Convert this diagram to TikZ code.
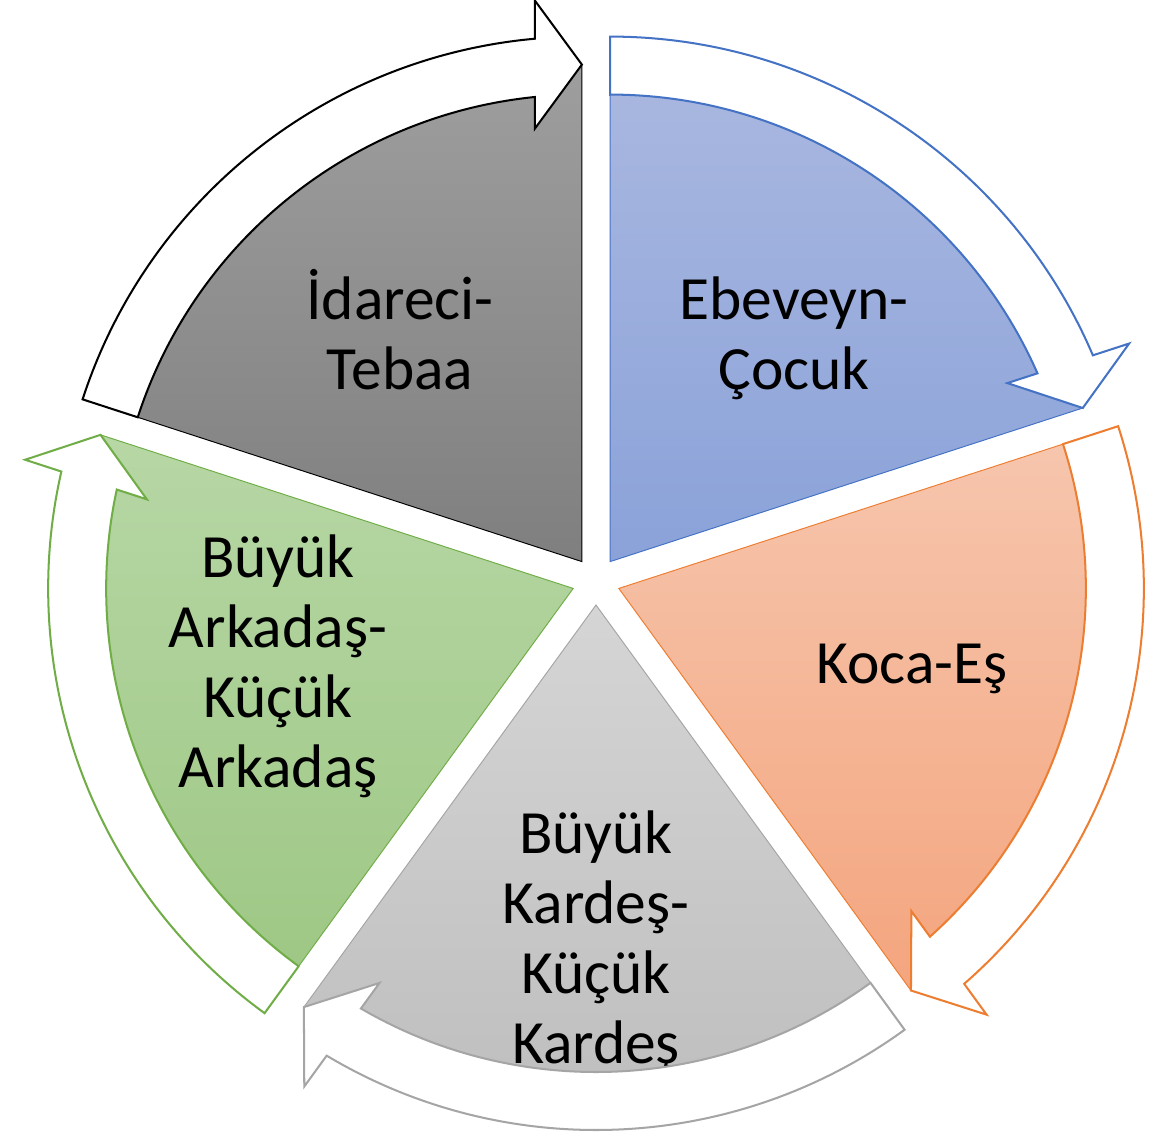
\documentclass[tikz,border=0pt]{standalone}
\usepackage{fontspec}
\setmainfont{Carlito}
\definecolor{grayT}{HTML}{9E9E9E}
\definecolor{grayB}{HTML}{7F7F7F}
\definecolor{grayL}{HTML}{000000}
\definecolor{blueT}{HTML}{AAB8E0}
\definecolor{blueB}{HTML}{8AA2D9}
\definecolor{blueL}{HTML}{4472C4}
\definecolor{orT}{HTML}{F6C6AE}
\definecolor{orB}{HTML}{F4A57E}
\definecolor{orL}{HTML}{ED7D31}
\definecolor{lgT}{HTML}{D5D5D5}
\definecolor{lgB}{HTML}{BDBDBD}
\definecolor{lgL}{HTML}{A5A5A5}
\definecolor{grT}{HTML}{B7D7A5}
\definecolor{grB}{HTML}{9DC784}
\definecolor{grL}{HTML}{70AD47}
\begin{document}
\begin{tikzpicture}[x=0.02cm,y=0.02cm,
  pieedge/.style={line width=0.55pt},
  cyclearrow/.style={line width=1.15pt, fill=white, line join=miter},
  lbl/.style={font=\fontsize{35pt}{39.8pt}\selectfont, align=center, inner sep=0pt, anchor=base, text=black}]
\useasboundingbox (0,0) rectangle (1169,-1133);
\coordinate (C) at (596,-581);
% pie segments
\foreach \b/\fa/\fb/\ln in {126/grayT/grayB/grayL, 54/blueT/blueB/blueL, -18/orT/orB/orL, -90/lgT/lgB/lgL, 198/grT/grB/grL}{
  \pgfmathsetmacro\sa{\b-36}
  \pgfmathsetmacro\ea{\b+36}
  \begin{scope}[shift={(C)}, shift={(\b:24)}]
    \shadedraw[top color=\fa, bottom color=\fb, draw=\ln, pieedge]
      (0,0) -- (\sa:497) arc[start angle=\sa, end angle=\ea, radius=497] -- cycle;
  \end{scope}
}
% labels (anchor = baseline of the last line)
\node[lbl] (idareci) at (400,-389) {İdareci-\\Tebaa};
\node[lbl] (ebeveyn) at (794,-389) {Ebeveyn-\\Çocuk};
\node[lbl] (koca) at (912,-683) {Koca-Eş};
\node[lbl] (kardes) at (596,-1063) {Büyük\\Kardeş-\\Küçük\\Kardeş};
\node[lbl] (arkadas) at (278,-787) {Büyük\\Arkadaş-\\Küçük\\Arkadaş};
% circular arrows
\foreach \b/\r/\ln in {126/0/grayL, 54/-72/blueL, -18/-144/orL, -90/-216/lgL, 198/72/grL}{
  \begin{scope}[shift={(C)}, shift={(\b:24)}, rotate=\r]
    \draw[cyclearrow, draw=\ln]
      (162:467) -- (162:525) arc[start angle=162, end angle=95.136, radius=525]
      -- (-47,561) -- (0,497) -- (-47,433) -- (95.777:467)
      arc[start angle=95.777, end angle=162, radius=467] -- cycle;
  \end{scope}
}
\end{tikzpicture}
\end{document}
